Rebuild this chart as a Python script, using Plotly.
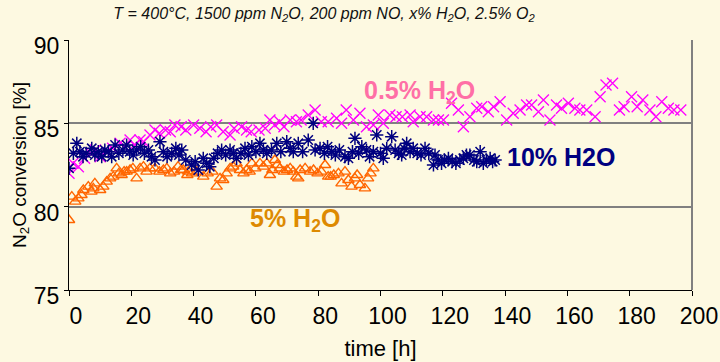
import plotly.graph_objects as go

# ---- data ----
t_pink = [0, 1.3, 3, 5, 7, 8.5, 10, 12, 14, 16.4,
          18, 19.6, 21, 22.8, 24, 26, 27.6, 29, 31, 32.5,
          34, 36, 37.5, 40, 42, 44, 45.5, 47.4, 49.5, 51.7,
          53, 55.4, 57, 58.5, 61, 63, 64.5, 66, 67.7, 69,
          71, 73, 74.5, 76.8, 79, 81, 83.2, 85.9, 87.5, 89,
          91.3, 93.4, 95.5, 97.7, 99.3, 100.9, 103, 105, 107, 109.5,
          110.5, 112.7, 114.8, 117, 118.6, 120.2, 122.8, 125, 126.6, 128.7,
          130.9, 132.5, 134.6, 136.3, 138.4, 140.5, 142.6, 144.8, 146.9, 148.5,
          150.7, 152.3, 154.4, 156.5, 158.1, 160.3, 162.4, 164, 166.2, 168.9,
          170.5, 172.4, 174.5, 176.7, 178.2, 180.6, 182.4, 184.2, 186.5, 188.4,
          190.3, 192.4, 194.2, 196.4]
v_pink = [82.0, 82.6, 82.4, 82.9, 83.2, 83.4, 83.0, 83.3, 83.5, 83.8,
          83.6, 84.0, 83.7, 84.0, 83.9, 84.3, 84.6, 84.4, 84.6, 84.5,
          84.9, 84.8, 84.6, 84.9, 84.7, 84.5, 84.8, 84.9, 84.5, 84.3,
          84.7, 84.8, 84.6, 84.5, 84.6, 84.7, 85.2, 84.9, 85.1, 84.8,
          85.2, 85.1, 85.2, 85.5, 85.8, 85.1, 85.1, 85.3, 85.0, 85.8,
          85.2, 85.6, 84.8, 84.9, 85.5, 85.0, 85.5, 85.4, 85.4, 85.5,
          85.1, 85.4, 85.4, 85.2, 85.2, 85.2, 86.2, 85.8, 84.8, 85.4,
          85.9, 86.0, 85.7, 86.0, 86.3, 85.2, 85.6, 85.8, 86.1, 86.1,
          85.7, 86.4, 85.2, 86.1, 85.9, 86.2, 85.9, 85.8, 85.8, 85.4,
          86.6, 87.3, 87.4, 85.8, 86.0, 86.6, 86.0, 86.4, 85.8, 85.4,
          86.3, 85.9, 85.8, 85.8]

t_navy = [0, 1.4, 2.5, 3.5, 4.5, 5.5, 7.3, 8.3, 9.4, 10.5,
          11.5, 12.6, 13.7, 14.8, 16, 17.3, 18.5, 19.5, 20.6, 21.7,
          23, 24.2, 25.5, 26.5, 27.6, 29.2, 30.3, 31.5, 33, 34.3,
          35.3, 36.2, 37.5, 39.4, 40.5, 41.5, 43.1, 44.2, 45.2, 46.5,
          47.7, 49, 50.3, 51.7, 52.8, 53.8, 55.2, 56.5, 57.6, 58.7,
          60, 61.3, 62.4, 63.5, 65, 66.7, 68, 69.9, 71, 72,
          73.6, 75, 76.8, 78.4, 79, 80.6, 82, 83, 84.3, 85.5,
          86.8, 88.6, 89.7, 91, 91.8, 93, 94, 95.5, 96.5, 97.7,
          98.8, 100, 100.9, 102, 103.6, 104.7, 105.8, 106.8, 107.6, 108.4,
          109.5, 110.5, 111.8, 113, 114.3, 115.5, 117, 117.5, 118.5, 119.6,
          120.5, 121.8, 123, 124.2, 125.5, 126.6, 127.6, 128.7, 130, 130.9,
          132, 133, 134, 135.2, 136, 136.8]
v_navy = [82.3, 83.2, 83.8, 83.3, 83.0, 83.2, 83.5, 83.1, 83.3, 83.0,
          83.4, 83.3, 83.0, 83.7, 83.2, 83.4, 83.7, 83.3, 83.1, 83.4,
          83.6, 83.2, 83.4, 83.0, 82.8, 83.9, 83.3, 83.0, 83.2, 83.5,
          83.1, 83.4, 82.8, 82.5, 82.7, 82.2, 82.9, 82.6, 82.4, 82.9,
          83.2, 83.4, 83.1, 83.4, 83.2, 82.9, 83.2, 83.5, 83.1, 83.6,
          83.3, 83.8, 83.4, 83.2, 83.4, 83.8, 83.3, 83.9, 83.5, 83.3,
          83.8, 83.3, 84.0, 85.0, 83.4, 83.5, 83.2, 83.6, 83.3, 83.1,
          83.4, 83.0, 82.9, 83.3, 84.1, 83.2, 83.6, 83.4, 83.0, 83.3,
          84.3, 83.2, 82.9, 83.5, 84.2, 83.4, 83.2, 83.1, 83.5, 83.8,
          83.3, 83.5, 83.2, 83.1, 83.5, 83.2, 82.5, 83.1, 82.8, 82.6,
          82.8, 82.9, 82.7, 82.6, 82.8, 82.9, 83.1, 83.1, 82.8, 82.7,
          83.3, 82.6, 82.8, 82.9, 82.7, 82.8]

t_orange = [0, 0.9, 2, 3, 4, 4.6, 6.2, 7.2, 7.8, 8.3,
            10, 11, 12.1, 13.2, 14.2, 15.3, 16, 16.9, 17.7, 18.5,
            19.6, 20.5, 21.7, 22.8, 23.9, 24.9, 26, 27.6, 29, 30.3,
            31.4, 32.5, 33.7, 35, 36, 36.7, 38, 38.3, 39.5, 41,
            43.1, 44.5, 46, 47.4, 48.5, 49.5, 50.6, 51.7, 52.7, 53.8,
            54.9, 56, 57, 58, 58.7, 59.8, 61.3, 62.4, 63.5, 64.5,
            65.3, 66.1, 66.8, 67.7, 69, 70, 71, 72, 73, 73.6,
            74.2, 75.8, 77.4, 78.5, 79.8, 81, 82.2, 83.2, 84, 85,
            86.5, 87.5, 88.6, 89.7, 90.7, 91.8, 92.5, 93.4, 95, 96,
            96.8, 97.7]
v_orange = [79.2, 80.6, 80.3, 80.5, 80.7, 81.0, 81.2, 80.9, 81.1, 81.4,
            81.0, 81.2, 81.5, 81.7, 81.8, 82.3, 82.0, 81.9, 82.1, 82.1,
            82.2, 82.3, 81.7, 82.3, 82.4, 82.1, 82.3, 82.3, 82.1, 82.2,
            82.3, 82.0, 82.1, 82.4, 82.2, 82.2, 81.9, 82.1, 82.0, 82.1,
            81.8, 82.0, 82.1, 81.2, 81.7, 81.6, 82.0, 82.3, 82.4, 82.6,
            82.2, 82.0, 82.2, 82.1, 82.6, 82.3, 82.6, 82.4, 82.6, 81.9,
            82.2, 82.8, 82.5, 82.3, 82.1, 82.2, 82.3, 82.1, 81.8, 81.7,
            82.2, 82.3, 82.1, 82.2, 82.0, 82.1, 82.5, 81.8, 81.8, 81.9,
            82.0, 81.4, 82.1, 81.6, 81.2, 81.7, 81.9, 81.3, 81.1, 81.7,
            82.0, 82.3]

x_ticks = [0, 20, 40, 60, 80, 100, 120, 140, 160, 180, 200]
y_ticks = [75, 80, 85, 90]

labels = ["0.5% H<sub>2</sub>O", "10% H2O", "5% H<sub>2</sub>O"]
label_t = [112.5, 157.8, 72.5]
label_v = [86.9, 83.0, 79.2]
label_colors = ["#FF6FA6", "#000080", "#DD8A00"]

title_text = "T = 400°C, 1500 ppm N<sub>2</sub>O, 200 ppm NO, x% H<sub>2</sub>O, 2.5% O<sub>2</sub>"

BG = "#FDF9E1"
NARROW = "Liberation Sans Narrow, Arial Narrow, Liberation Sans, Arial, sans-serif"
REG = "Liberation Sans, Arial, sans-serif"

fig = go.Figure()
fig.add_trace(go.Scatter(x=t_orange, y=v_orange, mode="markers",
                         marker=dict(symbol="triangle-up-open", size=10,
                                     color="#FF6600", line=dict(width=1.4, color="#FF6600"))))
fig.add_trace(go.Scatter(x=t_pink, y=v_pink, mode="markers",
                         marker=dict(symbol="x-thin-open", size=11,
                                     color="#FF00FF", line=dict(width=1.3, color="#FF00FF"))))
fig.add_trace(go.Scatter(x=t_navy, y=v_navy, mode="markers",
                         marker=dict(symbol="asterisk-open", size=11,
                                     color="#000080", line=dict(width=1.5, color="#000080"))))

for txt, tx, vy, c in zip(labels, label_t, label_v, label_colors):
    fig.add_annotation(x=tx, y=vy, text="<b>" + txt + "</b>", showarrow=False,
                       font=dict(family=REG, size=25, color=c))

# black reference line at 80 and gray right border
fig.add_shape(type="line", xref="paper", x0=0, x1=1, yref="y", y0=80, y1=80,
              line=dict(color="black", width=1.3), layer="below")
fig.add_shape(type="line", xref="paper", x0=1, x1=1, yref="paper", y0=0, y1=1,
              line=dict(color="#808080", width=2))

fig.update_layout(
    width=720, height=362,
    paper_bgcolor=BG, plot_bgcolor=BG,
    showlegend=False,
    margin=dict(l=69, r=28, t=40, b=72, autoexpand=False),
    title=dict(text=title_text, x=0.45, xanchor="center", y=0.964, yanchor="middle",
               font=dict(family=NARROW, size=16, color="#111111", style="italic")),
    xaxis=dict(range=[0, 200], tickvals=x_ticks, showgrid=False, zeroline=False,
               automargin=False,
               showline=True, linecolor="black", linewidth=1.3,
               ticks="outside", ticklen=5, tickcolor="black",
               ticklabelshift=7,
               tickfont=dict(family=NARROW, size=23, color="black"),
               title=dict(text="time [h]", standoff=12,
                          font=dict(family=NARROW, size=22, color="black"))),
    yaxis=dict(range=[75, 90], tickvals=y_ticks, showgrid=True, gridcolor="#808080",
               gridwidth=2, zeroline=False, automargin=False,
               showline=True, linecolor="black", linewidth=1.3,
               ticks="outside", ticklen=4, tickcolor="black",
               ticklabelshift=6,
               tickfont=dict(family=NARROW, size=23, color="black"),
               title=dict(text="N<sub>2</sub>O conversion [%]", standoff=2,
                          font=dict(family=REG, size=19, color="black"))),
)

fig.write_html("out.html", config={"displayModeBar": False},
               post_script="document.body.style.margin='0';document.body.style.overflow='hidden';")
